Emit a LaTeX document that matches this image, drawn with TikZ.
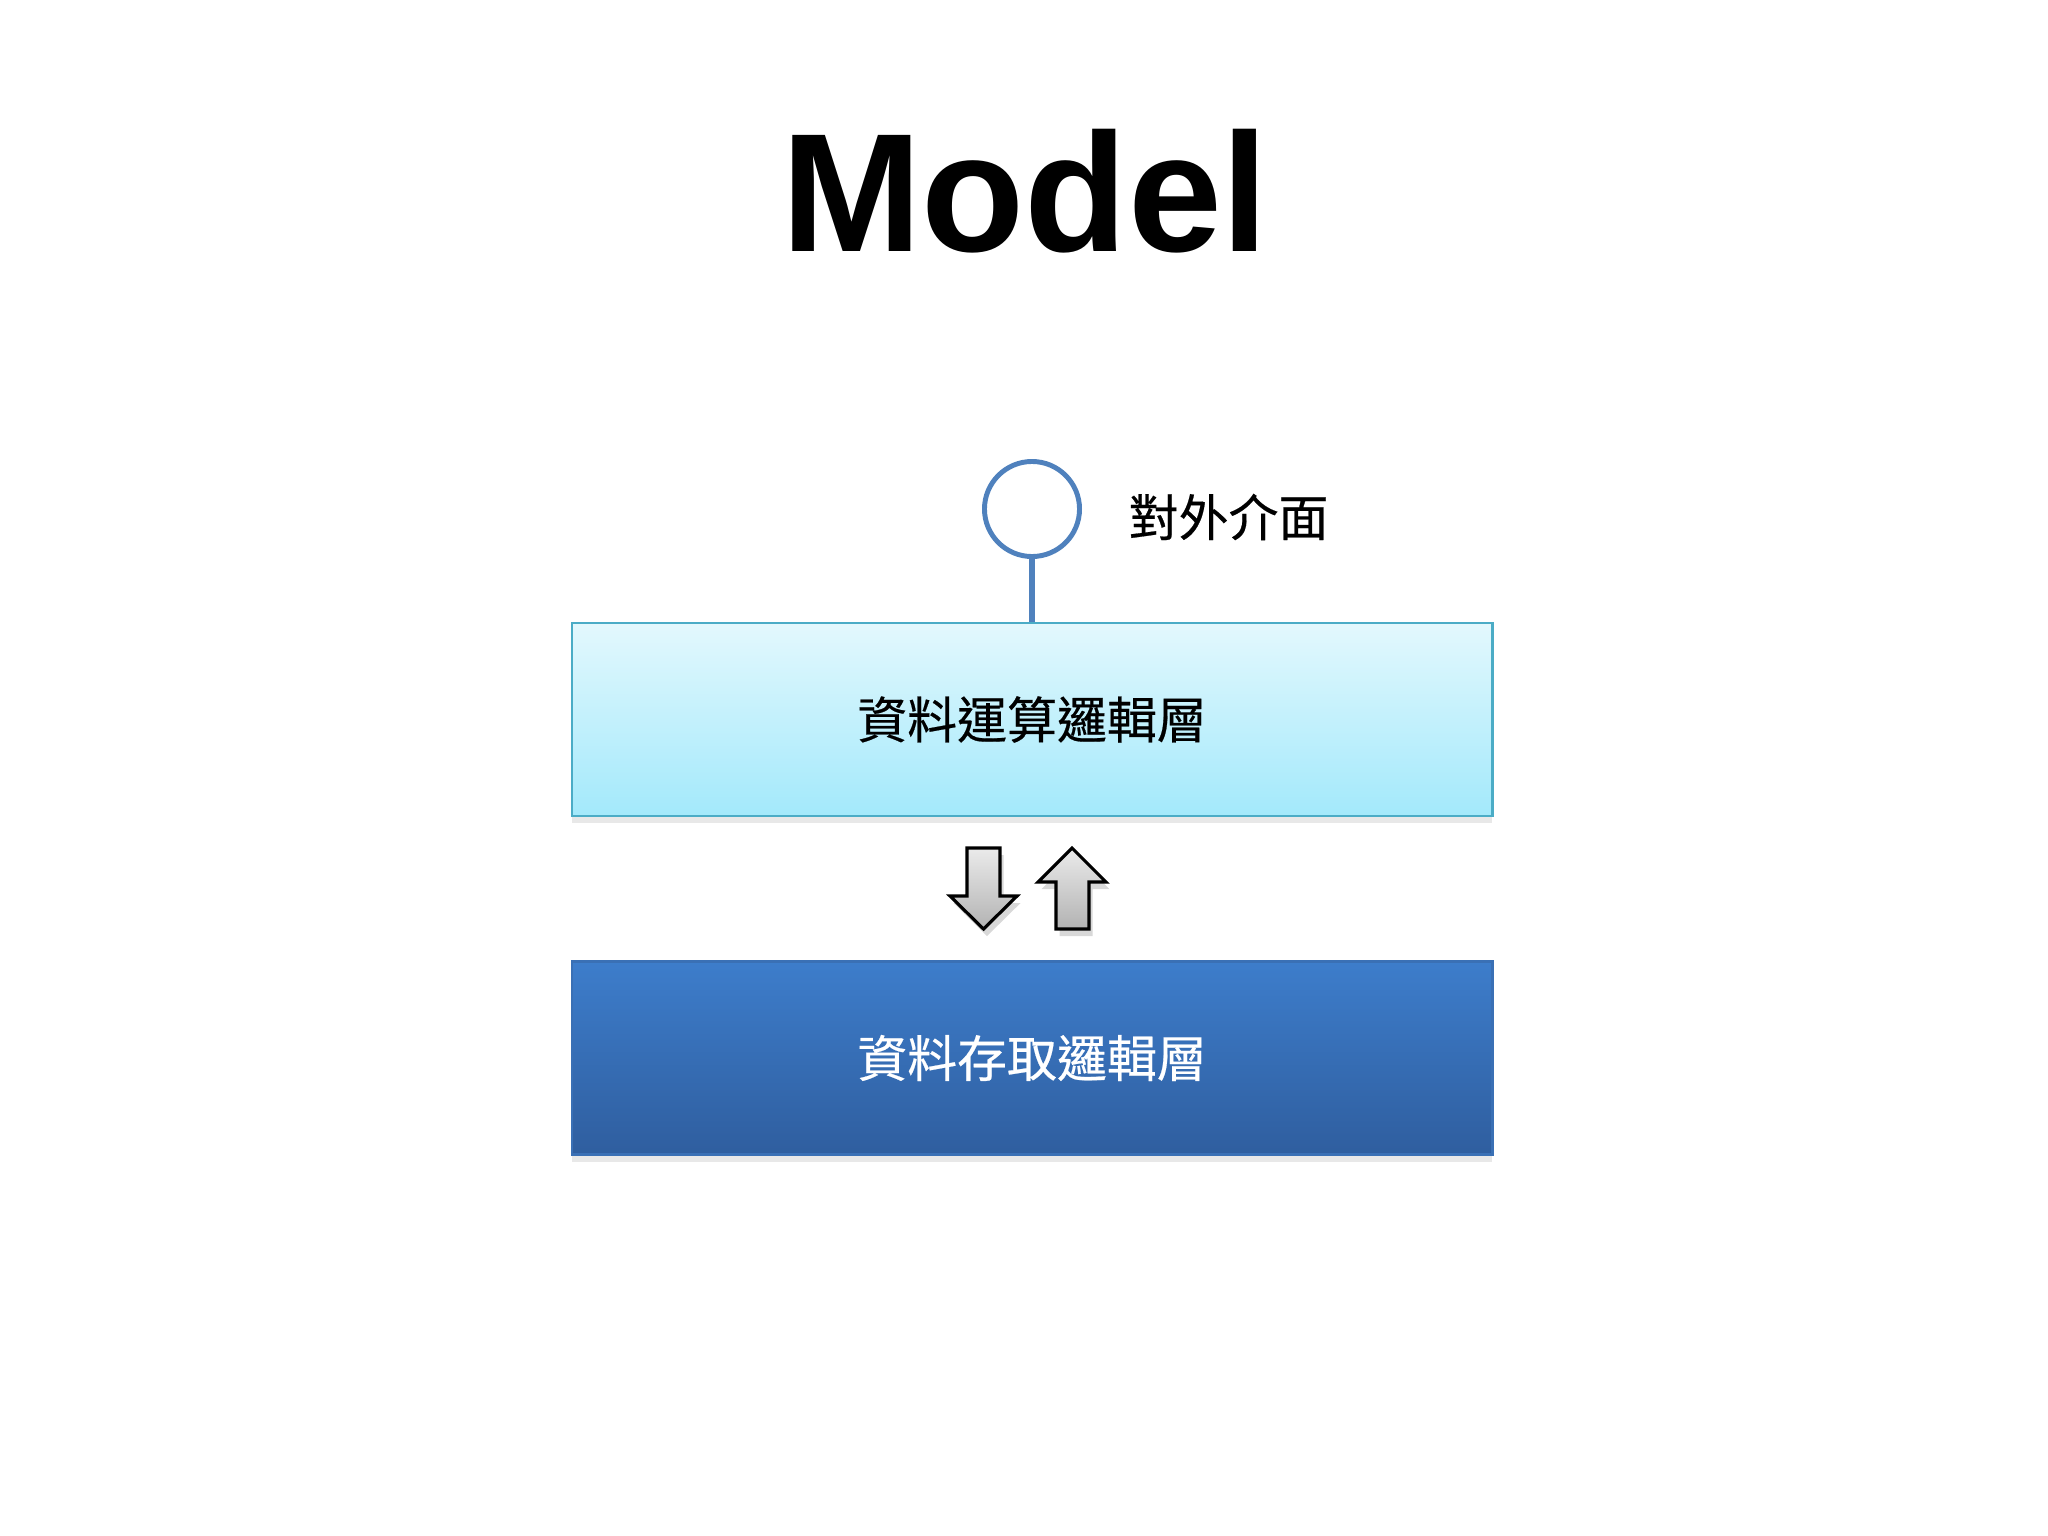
\documentclass[tikz,border=0pt]{standalone}
\usepackage{fontspec}
\setmainfont{Liberation Sans}
\newfontfamily\cjk[FakeBold=0.4]{Noto Sans CJK TC}
\usetikzlibrary{shadows}
\definecolor{ltop}{HTML}{E3F8FD}
\definecolor{lbot}{HTML}{A3E9FB}
\definecolor{lborder}{HTML}{4BACC6}
\definecolor{dtop}{HTML}{3D7DCB}
\definecolor{dbot}{HTML}{2F5E9F}
\definecolor{dborder}{HTML}{3A70B5}
\definecolor{ifblue}{HTML}{4F81BD}
\tikzset{
  layerbox/.style={minimum width=9.2cm, minimum height=1.93cm, inner sep=0pt, line width=0.7pt,
    font=\cjk\fontsize{14.2}{16}\selectfont,
    drop shadow={shadow xshift=0pt, shadow yshift=-2pt, opacity=0.15, fill=black!60}},
  upperbox/.style={layerbox, draw=lborder, top color=ltop, bottom color=lbot, text=black},
  lowerbox/.style={layerbox, draw=dborder, top color=dtop, bottom color=dbot, text=white},
  iface/.style={circle, draw=ifblue, line width=1.4pt, minimum size=0.95cm, inner sep=0pt, fill=white},
  stem/.style={draw=ifblue, line width=1.5pt},
  blockarrow/.style={draw=black, line width=0.9pt, line join=miter, top color=black!8, bottom color=black!30,
    drop shadow={shadow xshift=1pt, shadow yshift=-2pt, opacity=0.25, fill=black!60}},
  lbl/.style={font=\cjk\fontsize{14.2}{16}\selectfont, inner sep=0pt}
}
\begin{document}
\begin{tikzpicture}[x=0.01cm,y=-0.01cm]
\useasboundingbox (0,0) rectangle (2048,1536);
\fill[white] (0,0) rectangle (2048,1536);
\node[font=\bfseries\fontsize{48}{52}\selectfont, anchor=base, inner sep=0pt] (title) at (1025,251) {Model};
\node[upperbox] (upper) at (1032,719.5) {資料運算邏輯層};
\node[lowerbox] (lower) at (1032,1058) {資料存取邏輯層};
\node[iface] (circ) at (1032,509) {};
\draw[stem] (circ.south) -- (upper.north);
\node[lbl, anchor=west] (iflabel) at (1128,517) {對外介面};
\path[blockarrow] (967,848) -- (1000,848) -- (1000,896) -- (1017,896) -- (983.5,929) -- (950,896) -- (967,896) -- cycle;
\path[blockarrow] (1072,848) -- (1106,882) -- (1089,882) -- (1089,929) -- (1056,929) -- (1056,882) -- (1038,882) -- cycle;
\end{tikzpicture}
\end{document}
